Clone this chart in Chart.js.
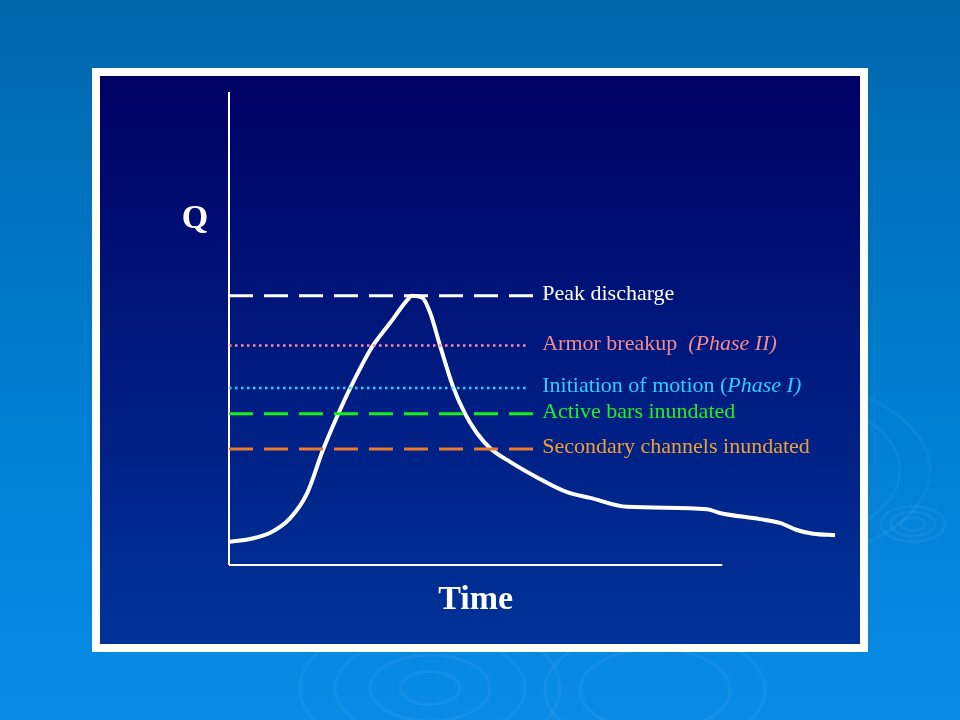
<!DOCTYPE html>
<html>
<head>
<meta charset="utf-8">
<script src="https://cdn.jsdelivr.net/npm/chart.js@4.4.0/dist/chart.umd.min.js"></script>
<style>
  html, body { margin: 0; padding: 0; overflow: hidden; background: #0078c8; }
  #wrap { width: 960px; height: 720px; }
</style>
</head>
<body>
<div id="wrap"><canvas id="hydro" width="960" height="720"></canvas></div>
<script>
// hydrograph, time in % of plotted span, discharge in % of axis height
const timeVals = [0, 3.5, 6.8, 10.1, 12.9, 15.5, 17.8, 20.0, 23.6, 26.6, 29.4, 30.2, 31.9, 33.2, 34.8, 37.0, 38.9, 40.9, 43.1, 46.4, 51.3, 55.8, 59.6, 65.7, 78.9, 81.0, 87.6, 90.9, 93.7, 96.4, 100];
const flowVals = [4.9, 5.5, 6.8, 9.9, 15.2, 24.3, 31.3, 37.4, 46.1, 51.2, 56.0, 56.9, 56.5, 53.3, 46.5, 37.6, 32.1, 27.9, 24.7, 21.8, 18.2, 15.4, 14.2, 12.3, 11.8, 11.0, 9.7, 8.9, 7.4, 6.6, 6.3];

// threshold lines
const levelNames = ['Peak discharge', 'Armor breakup', 'Initiation of motion', 'Active bars inundated', 'Secondary channels inundated'];
const levelNotes = ['', '(Phase II)', 'Phase I)', '', ''];
const levelQ = [56.9, 46.4, 37.4, 32.0, 24.5];
const levelEnd = [50.2, 49.3, 49.3, 50.2, 50.2];

// axes extent
const axisTimeEnd = 81.4;
const axisQTop = 100;

const lineColors = ['#ffffff', '#ff8c9c', '#22d8f0', '#18ee18', '#ea7a2c'];
const textColors = ['#ffffff', '#f48a8e', '#33ccff', '#22ee22', '#f0a030'];
const dashes = [[24, 11], [2.5, 3.5], [2.5, 3.5], [24, 11], [24, 11]];
const widths = [3, 2.5, 2.5, 3, 3];
const serif = '"Liberation Serif", "Times New Roman", serif';

const levelSets = levelNames.map((name, i) => ({
  label: name,
  data: [{x: 0, y: levelQ[i]}, {x: levelEnd[i], y: levelQ[i]}],
  borderColor: lineColors[i],
  borderWidth: widths[i],
  borderDash: dashes[i],
  pointRadius: 0,
  clip: false,
  order: 1
}));

const backdrop = {
  id: 'backdrop',
  beforeDraw(chart) {
    const ctx = chart.ctx;
    ctx.save();
    let g = ctx.createLinearGradient(0, 0, 0, 720);
    g.addColorStop(0, '#0066ac');
    g.addColorStop(0.6, '#0080d4');
    g.addColorStop(1, '#0a8ce6');
    ctx.fillStyle = g;
    ctx.fillRect(0, 0, 960, 720);
    // faint ripples
    ctx.strokeStyle = 'rgba(150,210,255,0.08)';
    ctx.lineWidth = 3;
    [[913, 524, [32, 22, 12]], [430, 688, [130, 95, 60, 30]], [655, 690, [110, 75]], [760, 470, [170, 140]]].forEach(r => {
      r[2].forEach(rx => {
        ctx.beginPath();
        ctx.ellipse(r[0], r[1], rx, rx * 0.55, 0, 0, Math.PI * 2);
        ctx.stroke();
      });
    });
    ctx.fillStyle = '#ffffff';
    ctx.fillRect(92, 68, 776, 584);
    g = ctx.createLinearGradient(0, 76, 0, 644);
    g.addColorStop(0, '#000064');
    g.addColorStop(1, '#003399');
    ctx.fillStyle = g;
    ctx.fillRect(100, 76, 760, 568);
    ctx.restore();
  },
  afterDatasetsDraw(chart) {
    const ctx = chart.ctx;
    const xs = chart.scales.x, ys = chart.scales.y;
    ctx.save();
    ctx.textBaseline = 'alphabetic';
    levelNames.forEach((name, i) => {
      let x = xs.getPixelForValue(levelEnd[3]) + 9;
      const y = ys.getPixelForValue(levelQ[i]) + 4;
      ctx.font = '22px ' + serif;
      ctx.fillStyle = textColors[i];
      let main = name;
      if (i === 1) main += '  ';
      if (i === 2) main += ' (';
      ctx.fillText(main, x, y);
      if (levelNotes[i]) {
        x += ctx.measureText(main).width;
        ctx.font = 'italic 22px ' + serif;
        ctx.fillText(levelNotes[i], x, y);
      }
    });
    ctx.fillStyle = '#ffffff';
    ctx.font = 'bold 34px ' + serif;
    ctx.textAlign = 'center';
    ctx.fillText('Q', chart.chartArea.left - 34, ys.getPixelForValue(72) + 4);
    ctx.fillText('Time', xs.getPixelForValue(axisTimeEnd / 2), ys.getPixelForValue(0) + 44);
    ctx.restore();
  }
};

new Chart(document.getElementById('hydro'), {
  type: 'line',
  data: {
    datasets: [
      {
        label: 'Discharge',
        data: timeVals.map((t, i) => ({x: t, y: flowVals[i]})),
        borderColor: '#ffffff',
        borderWidth: 4,
        cubicInterpolationMode: 'monotone',
        pointRadius: 0,
        clip: false,
        order: 2
      },
      {
        label: 'Q axis',
        data: [{x: 0, y: 0}, {x: 0, y: axisQTop}],
        borderColor: '#ffffff',
        borderWidth: 2,
        pointRadius: 0,
        clip: false,
        order: 3
      },
      {
        label: 'Time axis',
        data: [{x: 0, y: 0}, {x: axisTimeEnd, y: 0}],
        borderColor: '#ffffff',
        borderWidth: 2,
        pointRadius: 0,
        clip: false,
        order: 3
      },
      ...levelSets
    ]
  },
  options: {
    responsive: false,
    animation: false,
    devicePixelRatio: 1,
    layout: {padding: {left: 229, right: 125, top: 92, bottom: 155}},
    scales: {
      x: {type: 'linear', min: 0, max: 100, display: false},
      y: {min: 0, max: 100, display: false}
    },
    plugins: {
      legend: {display: false},
      tooltip: {enabled: false}
    }
  },
  plugins: [backdrop]
});
</script>
</body>
</html>
